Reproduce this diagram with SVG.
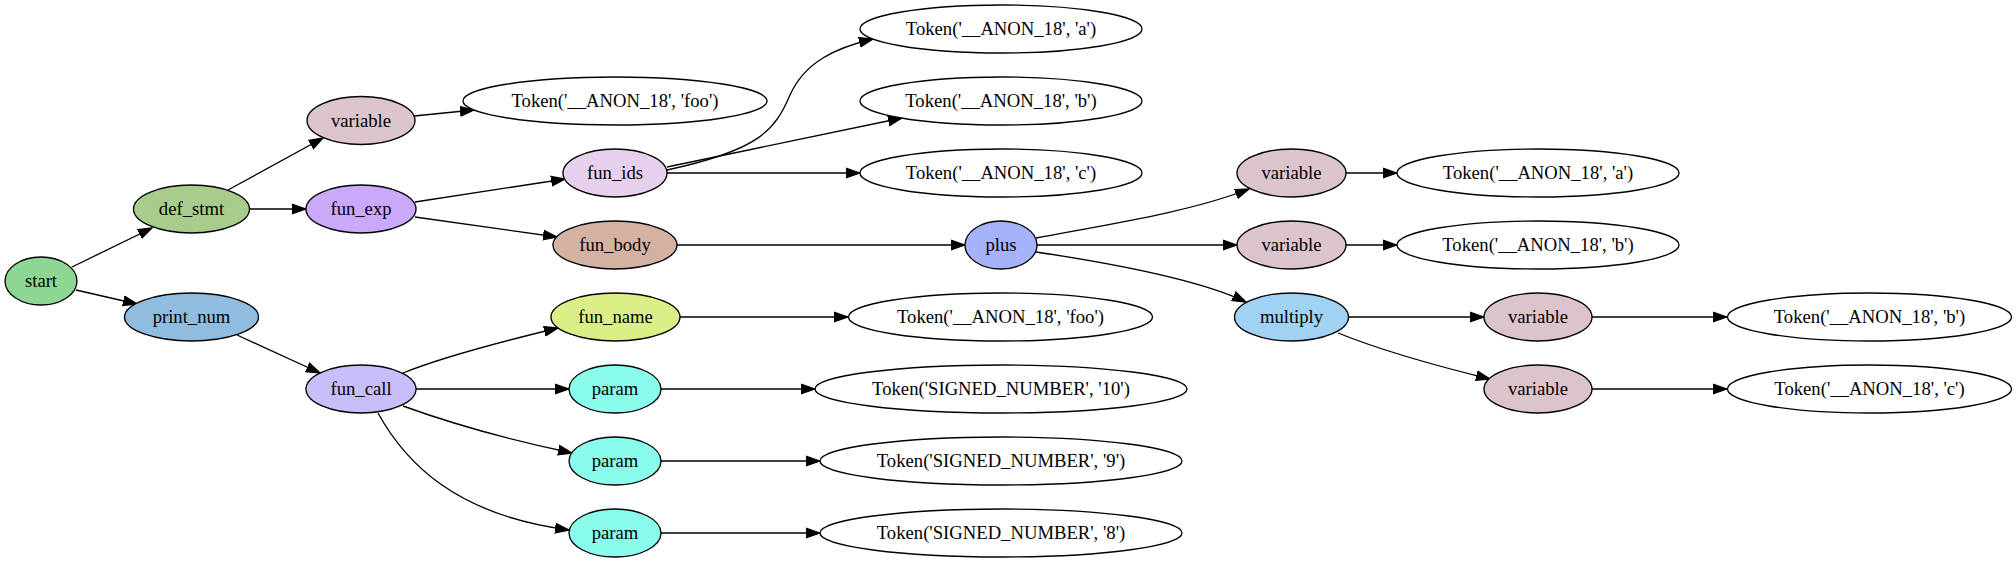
<svg xmlns="http://www.w3.org/2000/svg" width="2016" height="563" viewBox="0 0 2016 563">
<style>
.n ellipse{stroke:#000;stroke-width:1.33}
.n text{font-family:"Liberation Serif","Times New Roman",serif;font-size:18.67px;text-anchor:middle;fill:#000}
.e path{fill:none;stroke:#000;stroke-width:1.33;marker-end:url(#ah)}
</style>
<defs>
<marker id="ah" markerUnits="userSpaceOnUse" viewBox="0 -6 15 12" refX="14" refY="0" markerWidth="15" markerHeight="12" orient="auto">
<path d="M0.5,-4.67 L14,0 L0.5,4.67 Z" fill="#000" stroke="#000" stroke-width="1.33"/>
</marker>
</defs>
<rect width="2016" height="563" fill="#fff"/>
<g id="edges" class="e">
<path d="M72,267 L152,228"/>
<path d="M76,290 L137,304"/>
<path d="M228,190 L323,138"/>
<path d="M250,209 L306,209"/>
<path d="M414,116 L474,110"/>
<path d="M415,202 L565,179"/>
<path d="M415,217 L557,237"/>
<path d="M667,170 C760,150 775,130 790,95 C805,62 835,48 873,39"/>
<path d="M667,167 L902,118"/>
<path d="M667,173 L860,173"/>
<path d="M677,245 L965,245"/>
<path d="M1036,238 C1110,224 1190,212 1249,189"/>
<path d="M1037,245 L1237,245"/>
<path d="M1036,252 C1110,263 1200,280 1246,302"/>
<path d="M1346,173 L1397,173"/>
<path d="M1346,245 L1397,245"/>
<path d="M1348,317 L1484,317"/>
<path d="M1338,333 C1385,352 1445,368 1490,379"/>
<path d="M1592,317 L1727,317"/>
<path d="M1592,389 L1727,389"/>
<path d="M237,335 L320,373"/>
<path d="M403,373 C440,358 500,342 558,328"/>
<path d="M416,389 L569,389"/>
<path d="M403,406 C450,423 510,440 572,453"/>
<path d="M378,413 C405,462 455,515 569,530"/>
<path d="M680,317 L848,317"/>
<path d="M661,389 L815,389"/>
<path d="M661,461 L820,461"/>
<path d="M661,533 L820,533"/>
</g>
<g id="start" class="n"><ellipse cx="41" cy="281" rx="36" ry="24" fill="#8ed694"/><text x="41" y="287">start</text></g>
<g id="def_stmt" class="n"><ellipse cx="191.5" cy="209" rx="58" ry="24" fill="#a8cc8c"/><text x="191.5" y="215">def_stmt</text></g>
<g id="print_num" class="n"><ellipse cx="191.5" cy="317" rx="67" ry="24" fill="#90bce0"/><text x="191.5" y="323">print_num</text></g>
<g id="variable_0" class="n"><ellipse cx="361" cy="120.5" rx="54" ry="24" fill="#dcc4cc"/><text x="361" y="126.5">variable</text></g>
<g id="fun_exp" class="n"><ellipse cx="361" cy="209" rx="55" ry="24" fill="#caa8fa"/><text x="361" y="215">fun_exp</text></g>
<g id="fun_call" class="n"><ellipse cx="361" cy="389" rx="55" ry="24" fill="#c8befa"/><text x="361" y="395">fun_call</text></g>
<g id="token_foo_0" class="n"><ellipse cx="615" cy="101" rx="152" ry="24" fill="#fff"/><text x="615" y="107">Token('__ANON_18', 'foo')</text></g>
<g id="fun_ids" class="n"><ellipse cx="615" cy="173" rx="52" ry="24" fill="#e7d0ed"/><text x="615" y="179">fun_ids</text></g>
<g id="fun_body" class="n"><ellipse cx="615" cy="245" rx="62" ry="24" fill="#d4b2a2"/><text x="615" y="251">fun_body</text></g>
<g id="fun_name" class="n"><ellipse cx="615.5" cy="317" rx="64.5" ry="24" fill="#daf086"/><text x="615.5" y="323">fun_name</text></g>
<g id="param_0" class="n"><ellipse cx="615" cy="389" rx="46" ry="24" fill="#8afcec"/><text x="615" y="395">param</text></g>
<g id="param_1" class="n"><ellipse cx="615" cy="461" rx="46" ry="24" fill="#8afcec"/><text x="615" y="467">param</text></g>
<g id="param_2" class="n"><ellipse cx="615" cy="533" rx="46" ry="24" fill="#8afcec"/><text x="615" y="539">param</text></g>
<g id="token_a_0" class="n"><ellipse cx="1001" cy="29" rx="141" ry="24" fill="#fff"/><text x="1001" y="35">Token('__ANON_18', 'a')</text></g>
<g id="token_b_0" class="n"><ellipse cx="1001" cy="101" rx="141" ry="24" fill="#fff"/><text x="1001" y="107">Token('__ANON_18', 'b')</text></g>
<g id="token_c_0" class="n"><ellipse cx="1001" cy="173" rx="141" ry="24" fill="#fff"/><text x="1001" y="179">Token('__ANON_18', 'c')</text></g>
<g id="plus" class="n"><ellipse cx="1001" cy="245" rx="36" ry="24" fill="#a6b2fa"/><text x="1001" y="251">plus</text></g>
<g id="token_foo_1" class="n"><ellipse cx="1000.5" cy="317" rx="152" ry="24" fill="#fff"/><text x="1000.5" y="323">Token('__ANON_18', 'foo')</text></g>
<g id="token_10" class="n"><ellipse cx="1001" cy="389" rx="186" ry="24" fill="#fff"/><text x="1001" y="395">Token('SIGNED_NUMBER', '10')</text></g>
<g id="token_9" class="n"><ellipse cx="1001" cy="461" rx="181" ry="24" fill="#fff"/><text x="1001" y="467">Token('SIGNED_NUMBER', '9')</text></g>
<g id="token_8" class="n"><ellipse cx="1001" cy="533" rx="181" ry="24" fill="#fff"/><text x="1001" y="539">Token('SIGNED_NUMBER', '8')</text></g>
<g id="variable_1" class="n"><ellipse cx="1291.5" cy="173" rx="54.5" ry="24" fill="#dcc4cc"/><text x="1291.5" y="179">variable</text></g>
<g id="variable_2" class="n"><ellipse cx="1291.5" cy="245" rx="54.5" ry="24" fill="#dcc4cc"/><text x="1291.5" y="251">variable</text></g>
<g id="multiply" class="n"><ellipse cx="1291.5" cy="317" rx="57" ry="24" fill="#a0d2f4"/><text x="1291.5" y="323">multiply</text></g>
<g id="token_a_1" class="n"><ellipse cx="1538" cy="173" rx="141" ry="24" fill="#fff"/><text x="1538" y="179">Token('__ANON_18', 'a')</text></g>
<g id="token_b_1" class="n"><ellipse cx="1538" cy="245" rx="141" ry="24" fill="#fff"/><text x="1538" y="251">Token('__ANON_18', 'b')</text></g>
<g id="variable_3" class="n"><ellipse cx="1538" cy="317" rx="54" ry="24" fill="#dcc4cc"/><text x="1538" y="323">variable</text></g>
<g id="variable_4" class="n"><ellipse cx="1538" cy="389" rx="54" ry="24" fill="#dcc4cc"/><text x="1538" y="395">variable</text></g>
<g id="token_b_2" class="n"><ellipse cx="1869.5" cy="317" rx="142" ry="24" fill="#fff"/><text x="1869.5" y="323">Token('__ANON_18', 'b')</text></g>
<g id="token_c_1" class="n"><ellipse cx="1869.5" cy="389" rx="142" ry="24" fill="#fff"/><text x="1869.5" y="395">Token('__ANON_18', 'c')</text></g>
</svg>
